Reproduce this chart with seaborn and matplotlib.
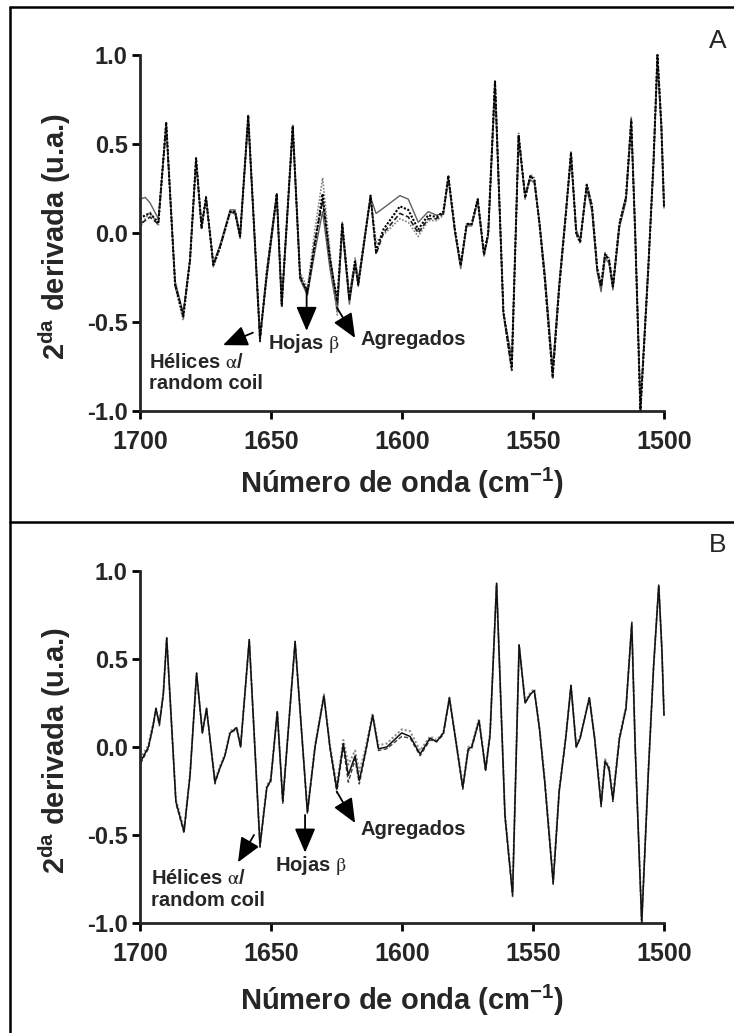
import matplotlib
matplotlib.use("Agg")
import matplotlib.pyplot as plt
from matplotlib.lines import Line2D
import seaborn as sns

# ---------------- data ----------------
wn_A = [1700, 1698, 1696.2, 1693, 1690, 1686.6, 1683.5, 1680.9, 1678.6, 1676.5,
        1674.8, 1672, 1669.5, 1665.6, 1663.7, 1661.8, 1658.7, 1654.2, 1651.6, 1647.8,
        1645.9, 1641.7, 1638.9, 1636.1, 1633.2, 1630.3, 1627.5, 1624.7, 1622.8, 1620.1,
        1617.9, 1616.7, 1612, 1609.9, 1607.1, 1600.8, 1597.6, 1593.8, 1590, 1586.8,
        1584.2, 1582.3, 1579.8, 1577.6, 1575.3, 1573.4, 1571.1, 1568.7, 1567.1, 1564.5,
        1561.3, 1558.1, 1555.5, 1553, 1551, 1549.5, 1547.5, 1545.5, 1542.5, 1540,
        1537.5, 1535.5, 1533.5, 1532, 1529.5, 1527.5, 1525.5, 1524, 1522.5, 1521,
        1519.5, 1517, 1514.5, 1512.5, 1511, 1509, 1506, 1504, 1502.5, 1501, 1500]

a_main = [0.08, 0.10, 0.11, 0.06, 0.62, -0.29, -0.47, -0.15, 0.42, 0.03,
          0.20, -0.18, -0.08, 0.12, 0.12, -0.02, 0.66, -0.59, -0.23, 0.22,
          -0.40, 0.60, -0.25, -0.33, -0.06, 0.22, -0.15, -0.38, 0.05, -0.37,
          -0.16, -0.29, 0.21, -0.10, 0.02, 0.15, 0.13, 0.02, 0.10, 0.09,
          0.12, 0.32, 0.02, -0.18, 0.05, 0.05, 0.19, -0.12, 0.00, 0.85,
          -0.44, -0.75, 0.55, 0.20, 0.32, 0.30, 0.05, -0.25, -0.80, -0.30,
          0.10, 0.45, 0.00, -0.05, 0.27, 0.15, -0.20, -0.30, -0.12, -0.15,
          -0.30, 0.05, 0.20, 0.63, 0.00, -1.00, -0.20, 0.40, 1.00, 0.60, 0.15]

a_solid = [0.19, 0.20, 0.17, 0.08, 0.60, -0.27, -0.45, -0.14, 0.40, 0.05,
           0.19, -0.17, -0.07, 0.13, 0.13, -0.01, 0.63, -0.57, -0.25, 0.20,
           -0.38, 0.58, -0.26, -0.35, -0.10, 0.12, -0.20, -0.44, 0.02, -0.40,
           -0.18, -0.30, 0.20, 0.11, 0.14, 0.21, 0.19, 0.06, 0.12, 0.10,
           0.11, 0.30, 0.00, -0.20, 0.04, 0.04, 0.18, -0.13, -0.02, 0.82,
           -0.45, -0.70, 0.52, 0.22, 0.30, 0.28, 0.06, -0.22, -0.76, -0.28,
           0.12, 0.42, 0.02, -0.04, 0.25, 0.12, -0.22, -0.33, -0.14, -0.17,
           -0.32, 0.03, 0.18, 0.60, 0.02, -0.97, -0.18, 0.38, 0.97, 0.58, 0.14]

a_dot = [0.03, 0.08, 0.12, 0.04, 0.61, -0.30, -0.49, -0.16, 0.41, 0.02,
         0.21, -0.19, -0.09, 0.11, 0.11, -0.03, 0.65, -0.60, -0.20, 0.22,
         -0.42, 0.61, -0.22, -0.31, 0.02, 0.31, -0.10, -0.46, 0.06, -0.35,
         -0.14, -0.27, 0.20, -0.05, -0.01, 0.08, 0.06, -0.02, 0.07, 0.07,
         0.10, 0.31, 0.01, -0.19, 0.06, 0.04, 0.18, -0.12, 0.00, 0.86,
         -0.46, -0.78, 0.56, 0.19, 0.33, 0.31, 0.04, -0.27, -0.82, -0.32,
         0.09, 0.46, -0.01, -0.06, 0.28, 0.16, -0.19, -0.29, -0.11, -0.14,
         -0.29, 0.06, 0.21, 0.65, -0.02, -1.00, -0.22, 0.41, 1.00, 0.62, 0.17]

a_dash = [0.05, 0.07, 0.09, 0.05, 0.62, -0.29, -0.46, -0.15, 0.42, 0.03,
          0.20, -0.18, -0.08, 0.12, 0.11, -0.02, 0.66, -0.61, -0.22, 0.22,
          -0.41, 0.60, -0.24, -0.34, -0.04, 0.18, -0.14, -0.40, 0.05, -0.38,
          -0.16, -0.28, 0.21, -0.12, 0.00, 0.11, 0.09, 0.00, 0.08, 0.08,
          0.11, 0.32, 0.01, -0.18, 0.05, 0.05, 0.19, -0.12, 0.00, 0.86,
          -0.45, -0.77, 0.55, 0.20, 0.32, 0.30, 0.05, -0.26, -0.81, -0.31,
          0.10, 0.45, 0.00, -0.05, 0.27, 0.15, -0.20, -0.30, -0.12, -0.15,
          -0.30, 0.05, 0.20, 0.64, 0.00, -1.00, -0.20, 0.40, 1.00, 0.60, 0.15]

wn_B = [1700, 1696.8, 1694.9, 1693.9, 1692.6, 1691.1, 1689.8, 1686.3, 1683.2, 1680.9,
        1678.4, 1676.2, 1674.6, 1671.4, 1669.5, 1667.6, 1665.6, 1663.1, 1661.6, 1658.3,
        1654.2, 1651.6, 1650.1, 1647.6, 1645.5, 1640.8, 1636.1, 1633.2, 1629.8, 1627.5,
        1624.9, 1622.4, 1620.5, 1617.9, 1616.3, 1614.1, 1611.2, 1609, 1605.8, 1600.1,
        1596.9, 1593.1, 1589.3, 1586.8, 1584.2, 1581.9, 1579.1, 1576.8, 1574.7, 1573.4,
        1570.6, 1568.1, 1566.4, 1563.9, 1560.7, 1557.8, 1555.3, 1553, 1551, 1549.5,
        1547.5, 1545.5, 1542.3, 1540, 1537.5, 1535.5, 1533.5, 1532, 1528.5, 1526.5,
        1524, 1522.5, 1521, 1519.5, 1517, 1514.5, 1512.3, 1511, 1508.5, 1506,
        1504, 1502, 1500.8, 1500]

b_main = [-0.09, 0.00, 0.13, 0.22, 0.13, 0.30, 0.62, -0.31, -0.48, -0.16,
          0.42, 0.08, 0.22, -0.20, -0.12, -0.05, 0.08, 0.11, 0.00, 0.61,
          -0.56, -0.23, -0.19, 0.20, -0.31, 0.60, -0.37, 0.00, 0.29, 0.00,
          -0.24, 0.02, -0.16, -0.05, -0.19, -0.04, 0.18, -0.01, 0.00, 0.08,
          0.06, -0.04, 0.05, 0.03, 0.08, 0.28, 0.00, -0.23, -0.01, 0.00,
          0.15, -0.13, 0.07, 0.93, -0.39, -0.84, 0.58, 0.25, 0.30, 0.32,
          0.10, -0.20, -0.77, -0.25, 0.05, 0.35, 0.00, 0.05, 0.28, 0.05,
          -0.33, -0.08, -0.12, -0.30, 0.05, 0.22, 0.70, 0.00, -1.00, -0.15,
          0.45, 0.92, 0.55, 0.18]

b_var = [-0.07, 0.01, 0.14, 0.21, 0.14, 0.31, 0.61, -0.30, -0.47, -0.15,
         0.41, 0.09, 0.21, -0.19, -0.11, -0.04, 0.09, 0.11, 0.01, 0.60,
         -0.55, -0.22, -0.18, 0.20, -0.30, 0.59, -0.36, 0.01, 0.30, 0.01,
         -0.22, 0.04, -0.10, -0.02, -0.14, -0.02, 0.19, 0.01, 0.02, 0.10,
         0.09, -0.02, 0.06, 0.04, 0.08, 0.28, 0.01, -0.22, 0.00, 0.01,
         0.16, -0.12, 0.08, 0.92, -0.38, -0.82, 0.57, 0.26, 0.31, 0.33,
         0.11, -0.18, -0.75, -0.24, 0.06, 0.34, 0.01, 0.06, 0.28, 0.06,
         -0.31, -0.07, -0.11, -0.28, 0.06, 0.23, 0.69, 0.01, -0.98, -0.14,
         0.45, 0.91, 0.55, 0.19]

b_var2 = [-0.10, -0.01, 0.12, 0.22, 0.12, 0.30, 0.62, -0.32, -0.49, -0.16,
          0.42, 0.08, 0.22, -0.21, -0.12, -0.05, 0.08, 0.10, 0.00, 0.61,
          -0.57, -0.23, -0.20, 0.20, -0.32, 0.60, -0.38, -0.01, 0.29, -0.01,
          -0.26, 0.00, -0.20, -0.07, -0.21, -0.05, 0.18, -0.02, -0.01, 0.06,
          0.05, -0.05, 0.04, 0.03, 0.07, 0.27, -0.01, -0.24, -0.02, -0.01,
          0.15, -0.14, 0.06, 0.93, -0.40, -0.85, 0.58, 0.25, 0.30, 0.32,
          0.10, -0.21, -0.78, -0.26, 0.05, 0.35, 0.00, 0.05, 0.28, 0.05,
          -0.34, -0.09, -0.13, -0.31, 0.04, 0.22, 0.71, -0.01, -1.00, -0.16,
          0.45, 0.92, 0.55, 0.18]

x_ticks = [1700, 1650, 1600, 1550, 1500]
y_ticks = [-1.0, -0.5, 0.0, 0.5, 1.0]
y_ticklabels = ["-1.0", "-0.5", "0.0", "0.5", "1.0"]
x_label = "Número de onda (cm$^{-1}$)"
y_label = "2$^{da}$ derivada (u.a.)"
panel_names = ["A", "B"]
txt_helices = "Hélices $\\mathrm{\\alpha}$/\nrandom coil"
txt_hojas = "Hojas $\\mathrm{\\beta}$"
txt_agreg = "Agregados"

# annotations: (text, text position, arrow tail, arrow tip)
ann_A = [(txt_helices, (1696.6, -0.785), (1656.9, -0.56), (1668.3, -0.63)),
         (txt_hojas, (1651.1, -0.62), (1636.4, -0.31), (1636.4, -0.55)),
         (txt_agreg, (1616.0, -0.60), (1624.8, -0.42), (1617.9, -0.59))]
ann_B = [(txt_helices, (1695.8, -0.81), (1656.5, -0.50), (1662.6, -0.655)),
         (txt_hojas, (1648.5, -0.676), (1637.0, -0.386), (1637.0, -0.60)),
         (txt_agreg, (1616.0, -0.466), (1624.8, -0.256), (1617.9, -0.432))]

# ---------------- style ----------------
sns.set_style("ticks")
plt.rcParams["font.family"] = ["Liberation Sans", "DejaVu Sans"]
plt.rcParams["mathtext.fontset"] = "stix"
plt.rcParams["mathtext.default"] = "regular"

W, H = 734, 1033
fig = plt.figure(figsize=(W / 100, H / 100), dpi=100)


def fx(px):
    return px / W


def fy(py):
    return 1 - py / H


# panel frames
frame_kw = dict(color="black", lw=1.8, transform=fig.transFigure)
fig.add_artist(Line2D([fx(10), fx(W + 5)], [fy(7), fy(7)], **frame_kw))
fig.add_artist(Line2D([fx(10), fx(10)], [fy(7), fy(H + 5)], **frame_kw))
fig.add_artist(Line2D([fx(10), fx(W + 5)], [fy(522), fy(522)], **frame_kw))

axes_px = [(55, 411), (571, 923)]
series = [
    (wn_A, [(a_solid, "#606060", 1.0, "-"),
            (a_dot, "#808080", 1.2, (0, (1, 1))),
            (a_dash, "#202020", 1.2, (0, (3, 1.5))),
            (a_main, "black", 1.5, (0, (1, 0.8)))]),
    (wn_B, [(b_var2, "#404040", 1.0, (0, (3, 1.5))),
            (b_var, "#909090", 1.5, (0, (1, 1))),
            (b_main, "#111111", 1.1, "-")]),
]
anns = [ann_A, ann_B]
xlabel_y = [483, 1000]
letter_y = [41, 545]

for i, ((top, bot), (wn, traces)) in enumerate(zip(axes_px, series)):
    ax = fig.add_axes([fx(140), fy(bot), fx(664) - fx(140), fy(top) - fy(bot)])
    for vals, col, lw, ls in traces:
        sns.lineplot(x=wn, y=vals, ax=ax, color=col, lw=lw, linestyle=ls,
                     estimator=None, sort=True, legend=False)
    for ln in ax.lines:
        ln.set_clip_on(False)
    ax.set_xlim(1700, 1500)
    ax.set_ylim(-1.0, 1.0)
    ax.set_xticks(x_ticks)
    ax.set_xticklabels([str(t) for t in x_ticks])
    ax.set_yticks(y_ticks)
    ax.set_yticklabels(y_ticklabels)
    sns.despine(ax=ax)
    for s in ["left", "bottom"]:
        ax.spines[s].set_linewidth(2.0)
    ax.tick_params(axis="both", direction="out", length=6, width=2.0, color="black")
    ax.tick_params(axis="y", labelsize=17, pad=3)
    ax.tick_params(axis="x", labelsize=18, pad=8)
    for lab in ax.get_yticklabels() + ax.get_xticklabels():
        lab.set_fontweight("bold")
    ax.set_xlabel(x_label, fontsize=21, fontweight="bold")
    ax.xaxis.set_label_coords(0.5, (bot - xlabel_y[i]) / (bot - top))
    ax.xaxis.label.set_va("center")
    ax.set_ylabel(y_label, fontsize=21, fontweight="bold")
    ax.yaxis.set_label_coords((55 - 140) / 524, 0.49)
    ax.yaxis.label.set_va("center")

    for txt, tpos, tail, tip in anns[i]:
        ax.text(tpos[0], tpos[1], txt, fontsize=14.5, fontweight="bold",
                ha="left", va="center", linespacing=1.15, clip_on=False)
        ax.annotate("", xy=tip, xytext=tail,
                    arrowprops=dict(arrowstyle="-|>,head_length=0.75,head_width=0.32",
                                    color="black", lw=1.3, mutation_scale=20,
                                    shrinkA=0, shrinkB=0))

    fig.text(fx(718), fy(letter_y[i]), panel_names[i], fontsize=19,
             ha="center", va="center")

fig.savefig("out.png", dpi=100)
